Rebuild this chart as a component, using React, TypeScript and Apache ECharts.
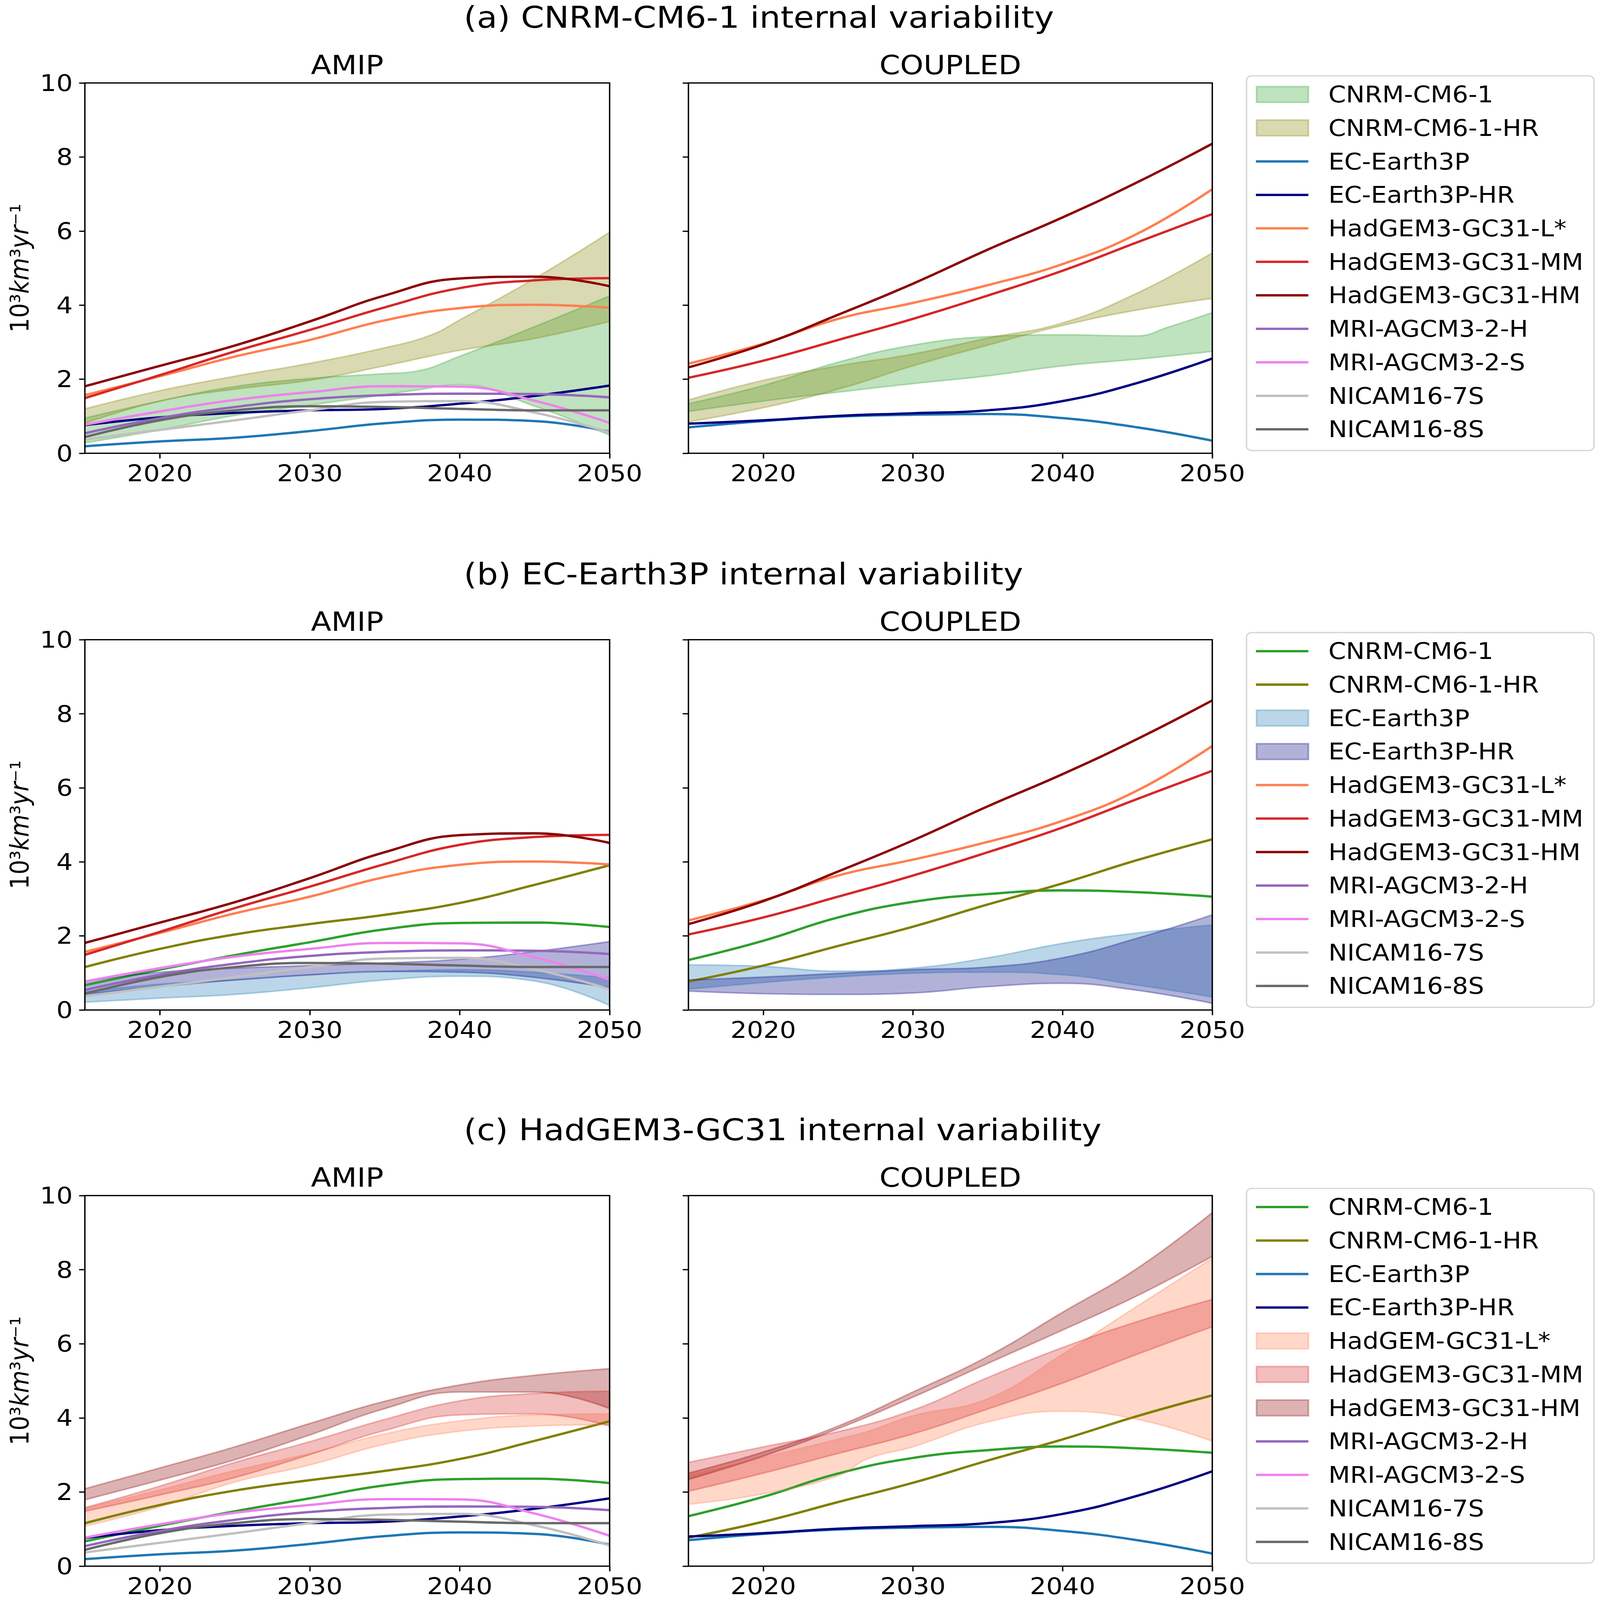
import React, { useEffect, useRef } from 'react';
import * as echarts from 'echarts';

// ---------------- DATA ----------------
const YEARS = [2015, 2020, 2025, 2030, 2035, 2040, 2045, 2050];
const X_TICKS = [2020, 2030, 2040, 2050];

// AMIP mean lines
const EC3P_AMIP = [0.19, 0.32, 0.42, 0.60, 0.81, 0.91, 0.87, 0.58];
const EC3PHR_AMIP = [0.76, 0.97, 1.09, 1.16, 1.20, 1.34, 1.55, 1.83];
const HGL_AMIP = [1.57, 2.08, 2.61, 3.06, 3.59, 3.92, 4.01, 3.93];
const HGMM_AMIP = [1.49, 2.11, 2.75, 3.33, 3.94, 4.46, 4.67, 4.73];
const HGHM_AMIP = [1.81, 2.36, 2.91, 3.56, 4.26, 4.72, 4.77, 4.51];
const MRIH_AMIP = [0.54, 0.95, 1.25, 1.46, 1.57, 1.61, 1.60, 1.51];
const MRIS_AMIP = [0.77, 1.13, 1.44, 1.65, 1.81, 1.80, 1.42, 0.82];
const N7_AMIP = [0.37, 0.63, 0.89, 1.16, 1.39, 1.41, 1.10, 0.56];
const N8_AMIP = [0.44, 0.89, 1.16, 1.27, 1.25, 1.20, 1.16, 1.16];
const CNRM_AMIP = [0.67, 1.09, 1.48, 1.83, 2.18, 2.35, 2.36, 2.24];
const CNRMHR_AMIP = [1.16, 1.65, 2.04, 2.32, 2.57, 2.89, 3.38, 3.91];

// COUPLED mean lines
const HGHM_CPL = [2.32, 2.94, 3.74, 4.58, 5.50, 6.37, 7.32, 8.36];
const HGL_CPL = [2.42, 2.96, 3.63, 4.06, 4.54, 5.11, 5.93, 7.13];
const HGMM_CPL = [2.04, 2.50, 3.06, 3.63, 4.26, 4.93, 5.70, 6.46];
const EC3PHR_CPL = [0.80, 0.89, 1.01, 1.08, 1.16, 1.41, 1.90, 2.56];
const EC3P_CPL = [0.70, 0.87, 0.99, 1.04, 1.06, 0.95, 0.70, 0.34];
const CNRM_CPL = [1.35, 1.87, 2.50, 2.92, 3.13, 3.23, 3.18, 3.06];
const CNRMHR_CPL = [0.77, 1.20, 1.73, 2.25, 2.85, 3.42, 4.05, 4.61];

// (a) CNRM bands
const CNRM_AMIP_BYRS = [2015, 2020, 2025, 2030, 2035, 2037, 2040, 2045, 2050];
const CNRM_AMIP_UP = [0.95, 1.41, 1.80, 2.02, 2.15, 2.21, 2.62, 3.42, 4.25];
const CNRM_AMIP_LO = [0.28, 0.63, 1.02, 1.30, 1.58, 1.70, 1.85, 1.27, 0.49];
const CNRMHR_AMIP_BYRS = [2015, 2020, 2025, 2030, 2035, 2038, 2040, 2045, 2050];
const CNRMHR_AMIP_UP = [1.20, 1.69, 2.08, 2.43, 2.85, 3.18, 3.60, 4.72, 5.97];
const CNRMHR_AMIP_LO = [0.81, 1.41, 1.73, 1.97, 2.36, 2.62, 2.78, 3.10, 3.56];
const CNRM_CPL_BYRS = [2015, 2020, 2025, 2030, 2035, 2040, 2045, 2047, 2050];
const CNRM_CPL_UP = [1.34, 1.83, 2.46, 2.92, 3.15, 3.20, 3.17, 3.40, 3.80];
const CNRM_CPL_LO = [1.13, 1.41, 1.65, 1.88, 2.09, 2.36, 2.54, 2.62, 2.75];
const CNRMHR_CPL_UP = [1.44, 1.97, 2.36, 2.68, 3.11, 3.52, 4.33, 5.41];
const CNRMHR_CPL_LO = [0.85, 1.23, 1.73, 2.36, 2.92, 3.45, 3.87, 4.18];

// (b) EC-Earth bands
const EC3P_AMIP_UP = [0.49, 0.70, 0.81, 0.95, 1.04, 1.09, 1.02, 0.87];
const EC3P_AMIP_LO = [0.21, 0.32, 0.42, 0.60, 0.81, 0.91, 0.78, 0.12];
const EC3PHR_AMIP_UP = [0.77, 1.02, 1.13, 1.20, 1.27, 1.37, 1.58, 1.85];
const EC3PHR_AMIP_LO = [0.42, 0.63, 0.81, 0.95, 1.04, 1.02, 0.88, 0.60];
const EC3P_CPL_UP = [1.22, 1.18, 1.05, 1.13, 1.41, 1.80, 2.08, 2.30];
const EC3P_CPL_LO = [0.56, 0.74, 0.89, 0.99, 1.02, 0.95, 0.67, 0.35];
const EC3PHR_CPL_UP = [0.81, 0.89, 0.99, 1.09, 1.16, 1.41, 1.94, 2.57];
const EC3PHR_CPL_LO = [0.51, 0.44, 0.42, 0.46, 0.63, 0.72, 0.53, 0.18];

// (c) HadGEM bands
const HGL_AMIP_UP = [1.56, 2.06, 2.58, 3.04, 3.57, 3.92, 4.08, 4.11];
const HGL_AMIP_LO = [1.08, 1.60, 2.27, 2.73, 3.29, 3.64, 3.78, 3.82];
const HGMM_AMIP_UP = [1.58, 2.16, 2.80, 3.36, 3.96, 4.46, 4.66, 4.72];
const HGMM_AMIP_LO = [1.48, 1.92, 2.39, 3.01, 3.66, 4.08, 4.11, 3.78];
const HGHM_AMIP_UP = [2.09, 2.65, 3.22, 3.85, 4.45, 4.89, 5.15, 5.33];
const HGHM_AMIP_LO = [1.79, 2.32, 2.87, 3.54, 4.25, 4.70, 4.70, 4.25];
const HGL_CPL_BYRS = [2015, 2020, 2025, 2027, 2030, 2035, 2040, 2045, 2050];
const HGL_CPL_UP = [2.48, 2.94, 3.43, 3.64, 4.06, 4.52, 5.72, 7.02, 8.31];
const HGL_CPL_LO = [1.67, 1.95, 2.44, 2.90, 3.22, 3.89, 4.18, 3.96, 3.37];
const HGMM_CPL_UP = [2.80, 3.22, 3.63, 4.21, 5.09, 5.90, 6.60, 7.20];
const HGMM_CPL_LO = [2.02, 2.51, 3.04, 3.57, 4.24, 4.94, 5.72, 6.46];
const HGHM_CPL_UP = [2.51, 3.08, 3.78, 4.70, 5.66, 6.85, 8.04, 9.54];
const HGHM_CPL_LO = [2.34, 2.97, 3.71, 4.56, 5.47, 6.37, 7.30, 8.36];

const ROW_TITLES = [
  '(a) CNRM-CM6-1 internal variability',
  '(b) EC-Earth3P internal variability',
  '(c) HadGEM3-GC31 internal variability',
];
const COL_TITLES = ['AMIP', 'COUPLED'];

// ---------------- STYLE ----------------
const W = 5278;
const H = 5863;
const FONT = 'DejaVu Sans';
const COL_LEFT = [280, 2271];
const COL_W = [1731, 1728];
const ROW_TOP = [304, 2344, 4381];
const ROW_H = [1357, 1357, 1358];
const LW = 8.6;
const EW = 5.7;
const SPINE = 4.6;

const COLORS: Record<string, string> = {
  cnrm: '#2ca02c',
  cnrmhr: '#808000',
  ec: '#1f77b4',
  echr: '#000080',
  hgl: '#ff7f50',
  hgmm: '#d62728',
  hghm: '#8b0000',
  mrih: '#9467bd',
  mris: '#ee82ee',
  n7: '#c0c0c0',
  n8: '#696969',
};

const rgba = (hex: string, a: number) => {
  const n = parseInt(hex.slice(1), 16);
  return `rgba(${(n >> 16) & 255},${(n >> 8) & 255},${n & 255},${a})`;
};

type Item =
  | { kind: 'line'; name: string; c: string; yrs: number[]; v: number[] }
  | { kind: 'band'; name: string; c: string; yrs: number[]; up: number[]; lo: number[] };

const L = (name: string, c: string, v: number[]): Item => ({ kind: 'line', name, c, yrs: YEARS, v });
const B = (name: string, c: string, up: number[], lo: number[], yrs: number[] = YEARS): Item => ({
  kind: 'band', name, c, yrs, up, lo,
});

const AMIP_REST = [
  L('MRI-AGCM3-2-H', 'mrih', MRIH_AMIP),
  L('MRI-AGCM3-2-S', 'mris', MRIS_AMIP),
  L('NICAM16-7S', 'n7', N7_AMIP),
  L('NICAM16-8S', 'n8', N8_AMIP),
];

const PANELS: Item[][] = [
  [
    B('CNRM-CM6-1', 'cnrm', CNRM_AMIP_UP, CNRM_AMIP_LO, CNRM_AMIP_BYRS),
    B('CNRM-CM6-1-HR', 'cnrmhr', CNRMHR_AMIP_UP, CNRMHR_AMIP_LO, CNRMHR_AMIP_BYRS),
    L('EC-Earth3P', 'ec', EC3P_AMIP),
    L('EC-Earth3P-HR', 'echr', EC3PHR_AMIP),
    L('HadGEM3-GC31-L*', 'hgl', HGL_AMIP),
    L('HadGEM3-GC31-MM', 'hgmm', HGMM_AMIP),
    L('HadGEM3-GC31-HM', 'hghm', HGHM_AMIP),
    ...AMIP_REST,
  ],
  [
    B('CNRM-CM6-1', 'cnrm', CNRM_CPL_UP, CNRM_CPL_LO, CNRM_CPL_BYRS),
    B('CNRM-CM6-1-HR', 'cnrmhr', CNRMHR_CPL_UP, CNRMHR_CPL_LO),
    L('EC-Earth3P', 'ec', EC3P_CPL),
    L('EC-Earth3P-HR', 'echr', EC3PHR_CPL),
    L('HadGEM3-GC31-L*', 'hgl', HGL_CPL),
    L('HadGEM3-GC31-MM', 'hgmm', HGMM_CPL),
    L('HadGEM3-GC31-HM', 'hghm', HGHM_CPL),
  ],
  [
    L('CNRM-CM6-1', 'cnrm', CNRM_AMIP),
    L('CNRM-CM6-1-HR', 'cnrmhr', CNRMHR_AMIP),
    B('EC-Earth3P', 'ec', EC3P_AMIP_UP, EC3P_AMIP_LO),
    B('EC-Earth3P-HR', 'echr', EC3PHR_AMIP_UP, EC3PHR_AMIP_LO),
    L('HadGEM3-GC31-L*', 'hgl', HGL_AMIP),
    L('HadGEM3-GC31-MM', 'hgmm', HGMM_AMIP),
    L('HadGEM3-GC31-HM', 'hghm', HGHM_AMIP),
    ...AMIP_REST,
  ],
  [
    L('CNRM-CM6-1', 'cnrm', CNRM_CPL),
    L('CNRM-CM6-1-HR', 'cnrmhr', CNRMHR_CPL),
    B('EC-Earth3P', 'ec', EC3P_CPL_UP, EC3P_CPL_LO),
    B('EC-Earth3P-HR', 'echr', EC3PHR_CPL_UP, EC3PHR_CPL_LO),
    L('HadGEM3-GC31-L*', 'hgl', HGL_CPL),
    L('HadGEM3-GC31-MM', 'hgmm', HGMM_CPL),
    L('HadGEM3-GC31-HM', 'hghm', HGHM_CPL),
  ],
  [
    L('CNRM-CM6-1', 'cnrm', CNRM_AMIP),
    L('CNRM-CM6-1-HR', 'cnrmhr', CNRMHR_AMIP),
    L('EC-Earth3P', 'ec', EC3P_AMIP),
    L('EC-Earth3P-HR', 'echr', EC3PHR_AMIP),
    B('HadGEM-GC31-L*', 'hgl', HGL_AMIP_UP, HGL_AMIP_LO),
    B('HadGEM3-GC31-MM', 'hgmm', HGMM_AMIP_UP, HGMM_AMIP_LO),
    B('HadGEM3-GC31-HM', 'hghm', HGHM_AMIP_UP, HGHM_AMIP_LO),
    ...AMIP_REST,
  ],
  [
    L('CNRM-CM6-1', 'cnrm', CNRM_CPL),
    L('CNRM-CM6-1-HR', 'cnrmhr', CNRMHR_CPL),
    L('EC-Earth3P', 'ec', EC3P_CPL),
    L('EC-Earth3P-HR', 'echr', EC3PHR_CPL),
    B('HadGEM-GC31-L*', 'hgl', HGL_CPL_UP, HGL_CPL_LO, HGL_CPL_BYRS),
    B('HadGEM3-GC31-MM', 'hgmm', HGMM_CPL_UP, HGMM_CPL_LO),
    B('HadGEM3-GC31-HM', 'hghm', HGHM_CPL_UP, HGHM_CPL_LO),
  ],
];

const LEGEND_ROWS: { name: string; c: string; kind: 'line' | 'band' }[][] = [0, 2, 4].map((p) =>
  PANELS[p].map((it) => ({ name: it.name, c: it.c, kind: it.kind }))
);

function buildOption() {
  const grid: any[] = [];
  const xAxis: any[] = [];
  const yAxis: any[] = [];
  const series: any[] = [];
  const graphic: any[] = [];

  for (let r = 0; r < 3; r++) {
    for (let c = 0; c < 2; c++) {
      const p = r * 2 + c;
      grid.push({ left: COL_LEFT[c], top: ROW_TOP[r], width: COL_W[c], height: ROW_H[r], containLabel: false });
      xAxis.push({
        type: 'value', gridIndex: p, min: 2015, max: 2050,
        axisLine: { show: false },
        axisTick: { show: true, length: 19, lineStyle: { color: '#000', width: SPINE }, customValues: X_TICKS },
        axisLabel: {
          show: true, customValues: X_TICKS, fontSize: 85, fontFamily: FONT, color: '#000',
          margin: 31, lineHeight: 85, showMinLabel: true, showMaxLabel: true,
          formatter: (v: number) => String(v),
        },
        splitLine: { show: false },
      });
      yAxis.push({
        type: 'value', gridIndex: p, min: 0, max: 10, interval: 2,
        axisLine: { show: false },
        axisTick: { show: true, length: 19, lineStyle: { color: '#000', width: SPINE } },
        axisLabel: {
          show: c === 0, fontSize: 85, fontFamily: FONT, color: '#000', margin: 40,
          formatter: (v: number) => String(v),
        },
        splitLine: { show: false },
      });

      PANELS[p].forEach((it, k) => {
        const col = COLORS[it.c];
        // data rows are [value, year] so that the value (y) is the stacked dimension
        const common = {
          type: 'line', xAxisIndex: p, yAxisIndex: p, encode: { x: 1, y: 0 },
          smooth: 0.45, symbol: 'none', showSymbol: false, silent: true,
          emphasis: { disabled: true }, z: 2,
        };
        if (it.kind === 'line') {
          series.push({
            ...common, name: it.name,
            data: it.yrs.map((x, i) => [it.v[i], x]),
            lineStyle: { color: col, width: LW }, itemStyle: { color: col },
          });
        } else {
          const edge = rgba(col, 0.3);
          const st = `band_${p}_${k}`;
          series.push({
            ...common, name: it.name + ' (lower)', stack: st, stackStrategy: 'all',
            data: it.yrs.map((x, i) => [it.lo[i], x]),
            lineStyle: { color: edge, width: EW }, itemStyle: { color: edge },
          });
          series.push({
            ...common, name: it.name, stack: st, stackStrategy: 'all',
            data: it.yrs.map((x, i) => [Math.round((it.up[i] - it.lo[i]) * 1000) / 1000, x]),
            lineStyle: { color: edge, width: EW }, itemStyle: { color: edge },
            areaStyle: { color: edge, opacity: 1 },
          });
        }
      });

      graphic.push({
        type: 'rect', silent: true, z: 50,
        shape: { x: COL_LEFT[c], y: ROW_TOP[r], width: COL_W[c], height: ROW_H[r] },
        style: { fill: 'none', stroke: '#000', lineWidth: SPINE },
      });
      graphic.push({
        type: 'text', silent: true, z: 50,
        x: COL_LEFT[c] + COL_W[c] / 2, y: ROW_TOP[r] - 66,
        style: {
          text: COL_TITLES[c], fontSize: 98, fontFamily: FONT, fill: '#000',
          align: 'center', verticalAlign: 'middle', textAlign: 'center', textVerticalAlign: 'middle',
        },
      });
    }

    graphic.push({
      type: 'text', silent: true, z: 50,
      x: 1530, y: ROW_TOP[r] - 240,
      style: {
        text: ROW_TITLES[r], fontSize: 110, fontFamily: FONT, fill: '#000',
        align: 'left', verticalAlign: 'middle', textAlign: 'left', textVerticalAlign: 'middle',
      },
    });
    graphic.push({
      type: 'text', silent: true, z: 50,
      x: 65, y: ROW_TOP[r] + ROW_H[r] / 2, rotation: Math.PI / 2,
      style: {
        text: '{n|10³}{i|km}{n|³}{i|yr}{n|⁻¹}',
        align: 'center', verticalAlign: 'middle', textAlign: 'center', textVerticalAlign: 'middle',
        rich: {
          n: { fontSize: 85, fontFamily: FONT, fill: '#000', color: '#000' },
          i: { fontSize: 85, fontFamily: FONT, fontStyle: 'italic', fill: '#000', color: '#000' },
        },
      },
    });

    const lx = 4112;
    const ly = ROW_TOP[r] - 26;
    graphic.push({
      type: 'rect', silent: true, z: 60,
      shape: { x: lx, y: ly, width: 1146, height: 1373, r: 17 },
      style: { fill: 'rgba(255,255,255,0.8)', stroke: '#d6d6d6', lineWidth: SPINE },
    });
    LEGEND_ROWS[r].forEach((e, i) => {
      const cy = ly + 68 + i * 122.7;
      const col = COLORS[e.c];
      if (e.kind === 'line') {
        graphic.push({
          type: 'line', silent: true, z: 61,
          shape: { x1: lx + 31, y1: cy, x2: lx + 204, y2: cy },
          style: { stroke: col, lineWidth: LW },
        });
      } else {
        graphic.push({
          type: 'rect', silent: true, z: 61,
          shape: { x: lx + 33, y: cy - 29, width: 171, height: 58 },
          style: { fill: rgba(col, 0.3), stroke: rgba(col, 0.3), lineWidth: EW },
        });
      }
      graphic.push({
        type: 'text', silent: true, z: 61,
        x: lx + 270, y: cy,
        style: {
          text: e.name, fontSize: 83, fontFamily: FONT, fill: '#000',
          align: 'left', verticalAlign: 'middle', textAlign: 'left', textVerticalAlign: 'middle',
        },
      });
    });
  }

  return {
    animation: false,
    backgroundColor: '#ffffff',
    grid, xAxis, yAxis, series,
    graphic: { elements: graphic },
  };
}

export default function App() {
  const ref = useRef<HTMLDivElement>(null);
  // the figure is laid out at its native 5278x5863 size and fitted to the real viewport
  const iw = typeof window !== 'undefined' ? window.innerWidth : W;
  const ih = typeof window !== 'undefined' ? window.innerHeight : H;
  const sx = Math.min(1, iw / W);
  const sy = Math.min(1, ih / H);
  useEffect(() => {
    if (!ref.current) return;
    const chart = echarts.init(ref.current, null, { renderer: 'svg', width: W, height: H });
    chart.setOption(buildOption() as any);
    return () => chart.dispose();
  }, []);
  return (
    <div
      ref={ref}
      style={{
        position: 'absolute', left: 0, top: 0, width: W, height: H, background: '#fff',
        transform: `scale(${sx}, ${sy})`, transformOrigin: '0 0',
      }}
    />
  );
}
